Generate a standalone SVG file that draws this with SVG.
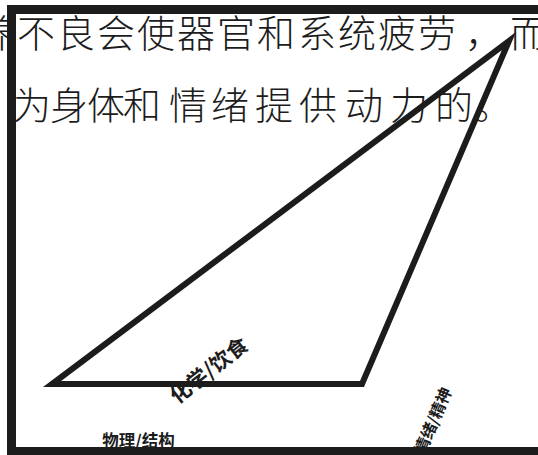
<svg xmlns="http://www.w3.org/2000/svg" width="538" height="455" viewBox="0 0 538 455">
<style>
.big{font-family:"Noto Sans CJK SC","Noto Sans",sans-serif;font-size:38px;font-weight:300;fill:#1c1c1c}
.lbl{font-family:"Noto Sans CJK SC","Noto Sans",sans-serif;font-weight:bold;fill:#1c1c1c}
</style>
<rect width="538" height="455" fill="#ffffff"/>
<g id="text">
<text class="big" x="-23 17 57 97 137 177 217 257 298 338 378 418 465 510" y="47">养不良会使器官和系统疲劳，而</text>
<text class="big" x="13 50 87 123 169 211 255 299 345 390 435 474" y="119">为身体和情绪提供动力的。</text>
</g>
<g id="connectors">
<polygon points="52,384 362,384 509,41" fill="none" stroke="#1c1c1c" stroke-width="6" stroke-linejoin="miter"/>
</g>
<g id="label-chem"><text class="lbl" font-size="21" text-anchor="middle" dominant-baseline="central" transform="translate(208,369) rotate(-38)">化学/饮食</text></g>
<g id="label-phys"><text class="lbl" font-size="16.5" x="138.5" y="447" text-anchor="middle">物理/结构</text></g>
<g id="label-emo"><text class="lbl" font-size="16" text-anchor="middle" dominant-baseline="central" transform="translate(432,420) rotate(-67)">情绪/精神</text></g>
<g id="frame"><rect x="11.5" y="9.5" width="600" height="442" fill="none" stroke="#1c1c1c" stroke-width="9"/></g>
</svg>
